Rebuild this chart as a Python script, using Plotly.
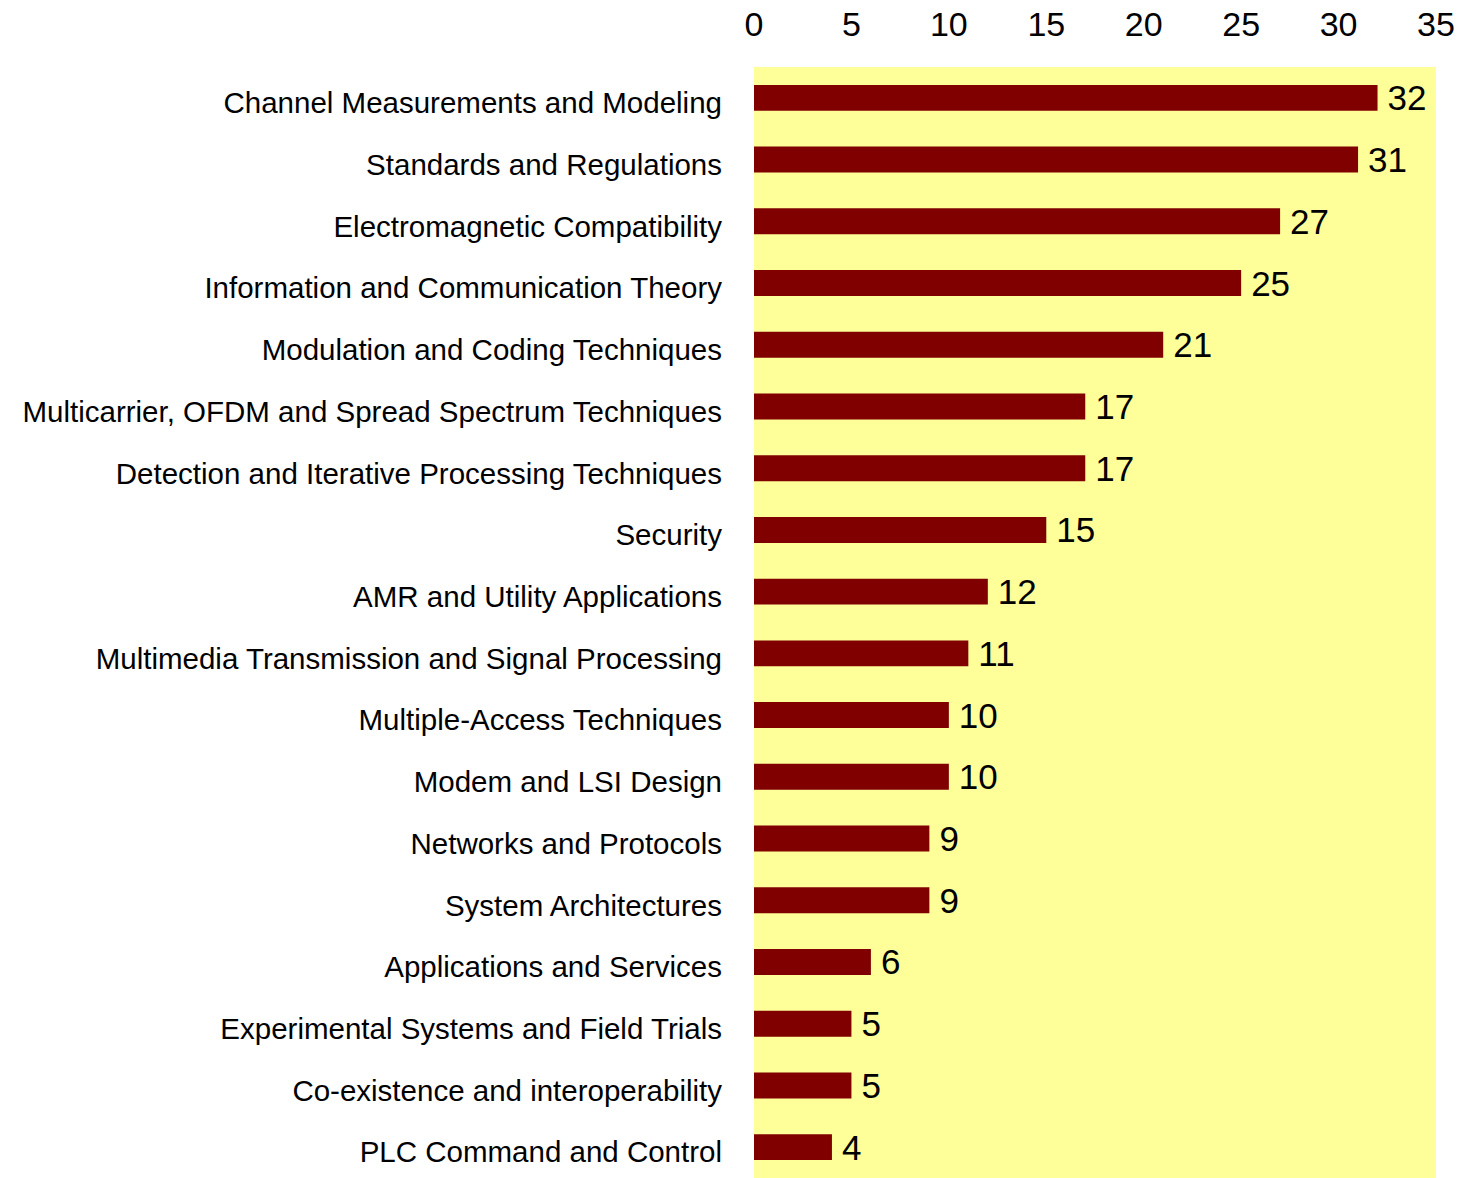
import plotly.graph_objects as go

categories = [
    "Channel Measurements and Modeling",
    "Standards and Regulations",
    "Electromagnetic Compatibility",
    "Information and Communication Theory",
    "Modulation and Coding Techniques",
    "Multicarrier, OFDM and Spread Spectrum Techniques",
    "Detection and Iterative Processing Techniques",
    "Security",
    "AMR and Utility Applications",
    "Multimedia Transmission and Signal Processing",
    "Multiple-Access Techniques",
    "Modem and LSI Design",
    "Networks and Protocols",
    "System Architectures",
    "Applications and Services",
    "Experimental Systems and Field Trials",
    "Co-existence and interoperability",
    "PLC Command and Control",
]
values = [32, 31, 27, 25, 21, 17, 17, 15, 12, 11, 10, 10, 9, 9, 6, 5, 5, 4]
x_ticks = [0, 5, 10, 15, 20, 25, 30, 35]

FONT = "Arial, Liberation Sans, sans-serif"

fig = go.Figure(
    go.Bar(
        x=values,
        y=categories,
        orientation="h",
        marker=dict(color="#800000", line=dict(width=0)),
        width=0.42,
        text=values,
        texttemplate="\u2009%{x}",
        textposition="outside",
        textfont=dict(family=FONT, size=35, color="black"),
        constraintext="none",
        cliponaxis=False,
        hoverinfo="skip",
    )
)

fig.update_layout(
    width=1467,
    height=1178,
    margin=dict(l=754, r=31, t=67, b=0, pad=0),
    paper_bgcolor="white",
    plot_bgcolor="#FFFF99",
    showlegend=False,
    font=dict(family=FONT, color="black"),
)

fig.update_xaxes(
    side="top",
    range=[0, 35],
    tickvals=x_ticks,
    ticktext=[str(t) for t in x_ticks],
    showgrid=False,
    zeroline=False,
    showline=False,
    ticks="",
    ticklabelstandoff=23,
    tickfont=dict(family=FONT, size=34, color="black"),
)

fig.update_yaxes(
    type="category",
    categoryorder="array",
    categoryarray=categories,
    range=[len(categories) - 0.5, -0.5],
    showgrid=False,
    zeroline=False,
    showline=False,
    ticks="",
    ticklabelstandoff=31,
    ticklabelshift=-5,
    tickfont=dict(family=FONT, size=29.5, color="black"),
)

fig.write_html(
    "out.html",
    config={"displayModeBar": False},
    post_script="document.body.style.margin='0';document.body.style.overflow='hidden';",
)
